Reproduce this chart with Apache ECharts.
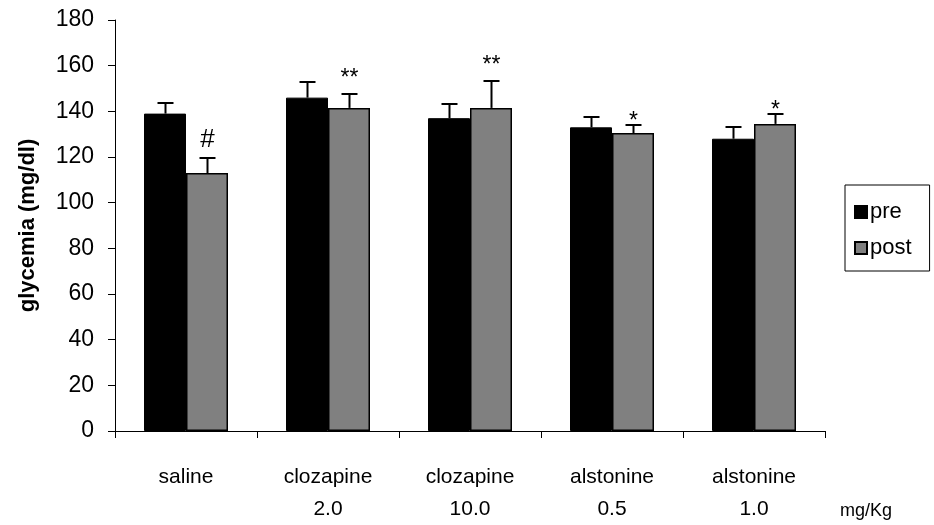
<!DOCTYPE html>
<html>
<head>
<meta charset="utf-8">
<title>glycemia</title>
<script src="https://cdn.jsdelivr.net/npm/echarts@6/dist/echarts.min.js"></script>
<style>
  html, body { margin: 0; padding: 0; background: #fff; }
  #chart { width: 934px; height: 525px; }
</style>
</head>
<body>
<div id="chart"></div>
<script>
// Groups and doses (mg/Kg)
var categories = ['saline', 'clozapine\n2.0', 'clozapine\n10.0', 'alstonine\n0.5', 'alstonine\n1.0'];

// Mean glycemia (mg/dl) and upper error (SEM)
var preValues  = [139, 146, 137, 133, 128];
var preErrors  = [4.5, 7, 6, 4.5, 5];
var postValues = [113, 141.5, 141.5, 130.5, 134.5];
var postErrors = [6.5, 6, 12, 3.5, 4.5];

// Significance marks over the post bars
var postMarks = ['#', '**', '**', '*', '*'];

var yTicks = [0, 20, 40, 60, 80, 100, 120, 140, 160, 180];

var FONT = "'Liberation Sans', Arial, sans-serif";
var BAR_W = 42;

// distance between the error cap and the bottom of each mark's text box
var MARK_GAP = { '#': 5, '**': 4, '*': -8 };
var MARK_SIZE = { '#': 26, '**': 23, '*': 23 };

function errData(values, errs) {
  return values.map(function (v, i) { return [i, v, errs[i]]; });
}

function errRenderer(offset, marks) {
  return function (params, api) {
    var idx = api.value(0), v = api.value(1), e = api.value(2);
    var mark = marks ? marks[params.dataIndex] : '';
    var base = api.coord([idx, v]);
    var top = api.coord([idx, v + e]);
    var x = Math.round(base[0] + offset) + 0.5;
    var yTop = Math.round(top[1]);
    var children = [
      { type: 'line', shape: { x1: x, y1: base[1], x2: x, y2: yTop },
        style: { stroke: '#000', lineWidth: 2 } },
      { type: 'line', shape: { x1: x - 8, y1: yTop, x2: x + 8, y2: yTop },
        style: { stroke: '#000', lineWidth: 2 } }
    ];
    if (mark) {
      children.push({
        type: 'text',
        style: {
          x: x, y: yTop - MARK_GAP[mark], text: mark,
          align: 'center', verticalAlign: 'bottom',
          font: MARK_SIZE[mark] + 'px ' + FONT, fill: '#000'
        }
      });
    }
    return { type: 'group', children: children };
  };
}

var chart = echarts.init(document.getElementById('chart'), null, { renderer: 'canvas' });

chart.setOption({
  animation: false,
  backgroundColor: '#fff',
  textStyle: { fontFamily: FONT },
  grid: { left: 115, right: 109, top: 20, bottom: 89 },
  legend: {
    orient: 'vertical',
    left: 845, top: 185,
    data: ['pre', 'post'],
    itemWidth: 12, itemHeight: 12, itemGap: 14,
    padding: [16, 18, 12, 9],
    borderColor: '#000', borderWidth: 1,
    textStyle: { fontSize: 22, color: '#000', fontFamily: FONT, padding: [0, 0, 0, -2] },
    icon: 'rect'
  },
  xAxis: {
    type: 'category',
    data: categories,
    axisLine: { lineStyle: { color: '#000', width: 1 } },
    axisTick: { show: true, length: 7, lineStyle: { color: '#000' } },
    axisLabel: { color: '#000', fontSize: 21, fontFamily: FONT, lineHeight: 32, margin: 30 }
  },
  yAxis: {
    type: 'value',
    min: 0, max: 180, interval: 20,
    name: 'glycemia (mg/dl)',
    nameLocation: 'middle',
    nameGap: 76,
    nameTextStyle: { fontSize: 22, fontWeight: 'bold', color: '#000', fontFamily: FONT },
    axisLine: { show: true, lineStyle: { color: '#000', width: 1 } },
    axisTick: { show: true, length: 7, lineStyle: { color: '#000' } },
    axisLabel: {
      color: '#000', fontSize: 23, fontFamily: FONT, margin: 21,
      formatter: function (v) { return yTicks.indexOf(v) >= 0 ? String(v) : ''; }
    },
    splitLine: { show: false }
  },
  series: [
    {
      name: 'pre', type: 'bar', data: preValues,
      barWidth: BAR_W, barGap: '0%',
      itemStyle: { color: '#000', borderColor: '#000', borderWidth: 1 }
    },
    {
      name: 'post', type: 'bar', data: postValues,
      barWidth: BAR_W, barGap: '0%',
      itemStyle: { color: '#808080', borderColor: '#000', borderWidth: 1.5 }
    },
    {
      name: 'pre-err', type: 'custom', data: errData(preValues, preErrors),
      renderItem: errRenderer(-BAR_W / 2, null), z: 3, silent: true
    },
    {
      name: 'post-err', type: 'custom', data: errData(postValues, postErrors),
      renderItem: errRenderer(BAR_W / 2, postMarks), z: 3, silent: true
    }
  ],
  graphic: [
    {
      type: 'text', left: 840, top: 502,
      style: { text: 'mg/Kg', font: '18px ' + FONT, fill: '#000' }
    }
  ]
});
</script>
</body>
</html>
